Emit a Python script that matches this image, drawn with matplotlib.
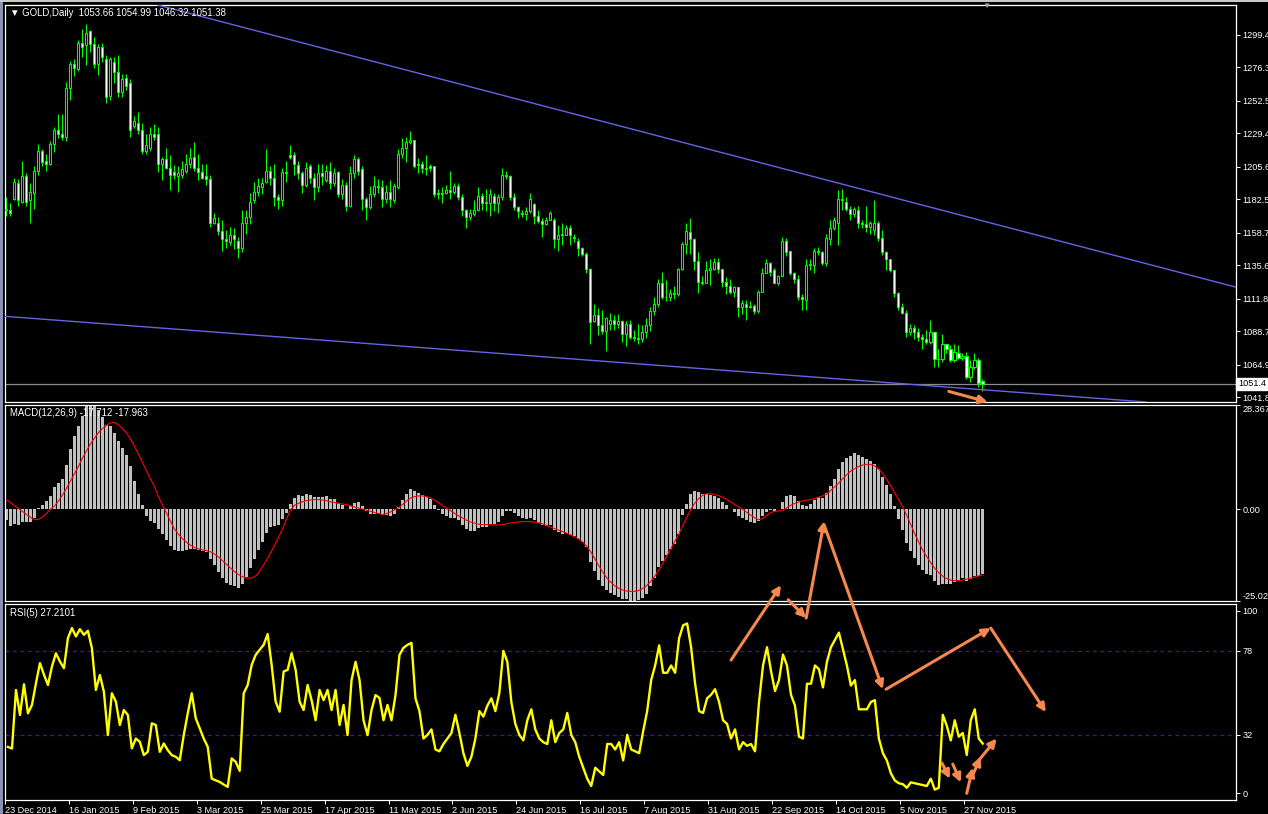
import matplotlib
matplotlib.use("Agg")
import matplotlib.pyplot as plt
from matplotlib.patches import Rectangle

plt.rcParams['font.family'] = ['Liberation Sans', 'DejaVu Sans']

# ---------------- data ----------------
date_labels = ["23 Dec 2014", "16 Jan 2015", "9 Feb 2015", "3 Mar 2015", "25 Mar 2015",
               "17 Apr 2015", "11 May 2015", "2 Jun 2015", "24 Jun 2015", "16 Jul 2015",
               "7 Aug 2015", "31 Aug 2015", "22 Sep 2015", "14 Oct 2015", "5 Nov 2015",
               "27 Nov 2015"]
label_bars = [0, 16, 32, 48, 64, 80, 96, 112, 128, 144, 160, 176, 192, 208, 224, 240]

opens = [
    1176, 1175, 1183, 1194, 1181, 1199, 1182, 1187, 1203, 1217,
    1210, 1208, 1222, 1232, 1229, 1227, 1262, 1279, 1275, 1294,
    1292, 1302, 1293, 1279, 1291, 1282, 1256, 1280, 1273, 1259,
    1269, 1265, 1235, 1237, 1232, 1217, 1219, 1229, 1229, 1208,
    1211, 1205, 1202, 1199, 1200, 1203, 1208, 1213, 1205, 1202,
    1199, 1197, 1166, 1166, 1160, 1154, 1152, 1157, 1153, 1148,
    1166, 1170, 1182, 1188, 1191, 1195, 1203, 1198, 1184, 1182,
    1202, 1214, 1214, 1207, 1201, 1193, 1206, 1198, 1191, 1201,
    1196, 1203, 1194, 1202, 1186, 1193, 1178, 1201, 1211, 1204,
    1183, 1177, 1186, 1192, 1191, 1183, 1188, 1182, 1191, 1215,
    1219, 1223, 1225, 1208, 1208, 1204, 1206, 1206, 1187, 1186,
    1187, 1189, 1188, 1192, 1184, 1175, 1170, 1172, 1175, 1185,
    1181, 1180, 1185, 1180, 1184, 1200, 1199, 1184, 1177, 1173,
    1172, 1174, 1179, 1171, 1167, 1165, 1168, 1168, 1154, 1157,
    1157, 1162, 1156, 1153, 1148, 1144, 1133, 1096, 1100, 1093,
    1089, 1094, 1097, 1094, 1096, 1087, 1094, 1085, 1084, 1083,
    1088, 1093, 1103, 1108, 1123, 1113, 1113, 1116, 1115, 1133,
    1151, 1159, 1154, 1139, 1124, 1123, 1132, 1133, 1138, 1133,
    1124, 1121, 1117, 1120, 1106, 1108, 1106, 1107, 1103, 1117,
    1130, 1137, 1132, 1123, 1128, 1153, 1146, 1130, 1126, 1113,
    1111, 1136, 1136, 1146, 1145, 1137, 1154, 1162, 1166, 1183,
    1181, 1176, 1172, 1175, 1166, 1165, 1163, 1161, 1166, 1155,
    1145, 1140, 1132, 1116, 1106, 1102, 1088, 1091, 1088, 1085,
    1083, 1081, 1088, 1069, 1069, 1080, 1076, 1068, 1073, 1070,
    1071, 1056, 1063, 1068, 1053.66]

highs = [
    1184, 1180, 1198, 1197, 1210, 1201, 1194, 1206, 1222, 1218,
    1215, 1224, 1234, 1243, 1243, 1266, 1281, 1282, 1296, 1304,
    1307, 1303, 1298, 1293, 1294, 1285, 1284, 1284, 1285, 1272,
    1272, 1268, 1242, 1245, 1237, 1229, 1234, 1236, 1234, 1213,
    1219, 1214, 1207, 1206, 1210, 1215, 1219, 1223, 1215, 1208,
    1208, 1200, 1173, 1170, 1168, 1161, 1163, 1162, 1156, 1175,
    1175, 1187, 1195, 1198, 1198, 1218, 1206, 1208, 1186, 1205,
    1210, 1221, 1216, 1210, 1203, 1209, 1208, 1201, 1208, 1208,
    1207, 1209, 1205, 1203, 1197, 1195, 1206, 1214, 1213, 1206,
    1184, 1192, 1199, 1197, 1196, 1193, 1196, 1194, 1218, 1226,
    1227, 1231, 1225, 1212, 1210, 1214, 1208, 1206, 1190, 1191,
    1193, 1203, 1194, 1194, 1186, 1176, 1176, 1182, 1191, 1187,
    1190, 1190, 1187, 1186, 1205, 1203, 1200, 1187, 1178, 1175,
    1177, 1187, 1180, 1175, 1169, 1170, 1174, 1169, 1164, 1166,
    1164, 1164, 1158, 1155, 1149, 1145, 1134, 1108, 1105, 1104,
    1099, 1102, 1100, 1101, 1097, 1096, 1097, 1090, 1094, 1093,
    1098, 1106, 1113, 1126, 1131, 1125, 1119, 1121, 1134, 1152,
    1166, 1169, 1155, 1145, 1128, 1139, 1140, 1141, 1141, 1133,
    1127, 1126, 1121, 1120, 1111, 1111, 1110, 1108, 1118, 1134,
    1140, 1138, 1134, 1129, 1156, 1155, 1146, 1131, 1129, 1115,
    1140, 1140, 1148, 1149, 1146, 1158, 1168, 1170, 1189, 1190,
    1184, 1178, 1177, 1178, 1168, 1178, 1167, 1182, 1167, 1161,
    1146, 1140, 1132, 1117, 1109, 1104, 1094, 1093, 1091, 1087,
    1090, 1097, 1089, 1076, 1087, 1080, 1079, 1080, 1079, 1073,
    1074, 1068, 1073, 1070, 1054.99]

lows = [
    1171, 1171, 1182, 1178, 1180, 1178, 1166, 1176, 1200, 1206,
    1203, 1207, 1216, 1226, 1225, 1224, 1253, 1270, 1274, 1284,
    1278, 1287, 1276, 1271, 1280, 1251, 1253, 1265, 1255, 1255,
    1260, 1227, 1233, 1229, 1215, 1215, 1217, 1225, 1202, 1196,
    1204, 1189, 1197, 1188, 1198, 1201, 1205, 1203, 1196, 1197,
    1193, 1163, 1165, 1157, 1146, 1148, 1150, 1147, 1141, 1145,
    1158, 1165, 1180, 1185, 1186, 1194, 1193, 1178, 1176, 1178,
    1195, 1211, 1200, 1197, 1187, 1191, 1194, 1182, 1188, 1193,
    1195, 1190, 1192, 1184, 1183, 1174, 1177, 1198, 1200, 1175,
    1168, 1176, 1184, 1187, 1177, 1180, 1177, 1180, 1190, 1212,
    1209, 1222, 1205, 1201, 1201, 1200, 1203, 1184, 1183, 1180,
    1186, 1183, 1186, 1182, 1171, 1162, 1168, 1171, 1174, 1175,
    1174, 1171, 1174, 1173, 1182, 1197, 1182, 1175, 1169, 1170,
    1168, 1173, 1165, 1166, 1156, 1164, 1168, 1148, 1146, 1150,
    1157, 1150, 1152, 1142, 1142, 1130, 1080, 1095, 1086, 1087,
    1075, 1090, 1090, 1091, 1081, 1078, 1083, 1082, 1080, 1081,
    1084, 1089, 1100, 1106, 1112, 1110, 1110, 1112, 1114, 1132,
    1144, 1144, 1132, 1116, 1122, 1123, 1122, 1132, 1130, 1120,
    1115, 1115, 1113, 1099, 1101, 1097, 1105, 1101, 1102, 1117,
    1130, 1128, 1123, 1122, 1128, 1142, 1129, 1123, 1111, 1104,
    1104, 1132, 1130, 1143, 1136, 1135, 1150, 1161, 1150, 1175,
    1174, 1168, 1170, 1162, 1162, 1159, 1158, 1157, 1153, 1143,
    1132, 1131, 1113, 1104, 1101, 1085, 1086, 1083, 1082, 1076,
    1080, 1080, 1063, 1063, 1067, 1073, 1067, 1067, 1069, 1068,
    1055, 1053, 1062, 1049, 1046.32]

closes = [
    1175, 1173, 1195, 1182, 1199, 1181, 1188, 1203, 1217, 1209,
    1208, 1222, 1232, 1229, 1227, 1262, 1279, 1276, 1294, 1291,
    1301, 1293, 1279, 1291, 1284, 1255, 1282, 1273, 1259, 1268,
    1263, 1232, 1238, 1232, 1217, 1221, 1229, 1227, 1208, 1211,
    1205, 1200, 1200, 1201, 1204, 1208, 1212, 1205, 1202, 1198,
    1197, 1166, 1169, 1160, 1154, 1153, 1157, 1154, 1148, 1166,
    1170, 1181, 1188, 1192, 1194, 1203, 1198, 1184, 1182, 1202,
    1201, 1213, 1208, 1201, 1193, 1205, 1198, 1191, 1201, 1199,
    1203, 1194, 1201, 1186, 1193, 1178, 1201, 1211, 1203, 1183,
    1177, 1186, 1192, 1191, 1183, 1188, 1183, 1192, 1215, 1219,
    1223, 1225, 1206, 1207, 1205, 1205, 1205, 1186, 1186, 1187,
    1189, 1188, 1192, 1184, 1175, 1170, 1173, 1175, 1185, 1180,
    1180, 1186, 1180, 1184, 1200, 1199, 1184, 1177, 1174, 1172,
    1174, 1183, 1171, 1167, 1165, 1168, 1173, 1154, 1157, 1158,
    1162, 1157, 1155, 1148, 1144, 1133, 1095, 1100, 1093, 1089,
    1098, 1097, 1094, 1096, 1087, 1094, 1085, 1084, 1083, 1088,
    1093, 1103, 1108, 1123, 1113, 1113, 1116, 1115, 1133, 1151,
    1160, 1154, 1139, 1124, 1123, 1132, 1134, 1138, 1133, 1124,
    1121, 1117, 1120, 1106, 1109, 1106, 1107, 1103, 1117, 1130,
    1137, 1131, 1123, 1128, 1153, 1145, 1130, 1126, 1113, 1112,
    1136, 1136, 1146, 1145, 1137, 1155, 1162, 1168, 1183, 1182,
    1176, 1172, 1176, 1166, 1165, 1163, 1166, 1166, 1155, 1145,
    1140, 1132, 1116, 1106, 1102, 1088, 1091, 1088, 1085, 1083,
    1081, 1088, 1069, 1069, 1080, 1076, 1068, 1074, 1070, 1071,
    1056, 1063, 1068, 1052, 1051.38]

macd_main = [
    -2.9, -4.5, -4.0, -4.2, -3.6, -3.6, -3.6, -2.4, 0.3, 1.0,
    2.1, 3.7, 6.0, 7.2, 8.1, 12.0, 16.4, 19.8, 22.6, 25.5,
    28.0, 28.367, 28.0, 27.0, 25.1, 23.0, 22.6, 20.7, 18.6, 16.6,
    14.7, 11.7, 7.8, 4.1, 1.0, -1.9, -3.1, -3.9, -5.5, -6.8,
    -8.5, -10.0, -11.0, -11.5, -11.5, -11.2, -10.8, -10.8, -11.0, -11.5,
    -11.8, -13.5, -15.2, -17.0, -18.8, -20.0, -20.6, -21.0, -21.5, -20.3,
    -18.5, -16.0, -13.5, -11.2, -9.0, -6.5, -5.0, -4.6, -4.3, -2.6,
    -1.0, 1.5, 3.0, 3.8, 3.6, 4.0, 3.8, 3.2, 3.4, 3.3,
    3.5, 2.8, 2.8, 1.6, 1.2, 0.0, 0.8, 1.8, 1.9, 0.8,
    -0.6, -1.2, -1.2, -1.1, -1.6, -1.6, -2.0, -1.4, 0.6, 2.5,
    4.2, 5.5, 4.9, 4.4, 3.8, 3.3, 2.8, 1.0, -0.3, -1.3,
    -1.8, -2.3, -2.3, -3.0, -4.2, -5.4, -5.9, -6.0, -5.2, -5.0,
    -4.8, -4.1, -4.0, -3.6, -1.8, -0.5, -0.6, -1.1, -1.8, -2.5,
    -2.8, -2.3, -3.0, -3.7, -4.4, -4.6, -4.2, -5.6, -6.3, -6.7,
    -6.6, -7.0, -7.4, -8.2, -9.0, -10.4, -14.4, -16.9, -19.2, -21.0,
    -22.0, -22.8, -23.5, -23.9, -24.5, -24.6, -25.0, -25.0, -24.8, -24.1,
    -23.0, -21.0, -18.8, -15.8, -14.0, -12.4, -10.8, -9.4, -6.8, -1.5,
    1.5, 4.0, 5.0, 4.8, 4.2, 4.0, 3.8, 3.6, 3.0, 2.0,
    1.0, 0.0, -0.8, -1.8, -2.5, -3.0, -3.4, -3.8, -3.2, -2.0,
    -0.8, -0.2, -0.5, 0.0, 2.0, 3.6, 3.9, 3.5, 2.2, 1.0,
    0.8, 1.4, 2.6, 3.2, 3.0, 4.5, 6.2, 8.1, 10.9, 12.8,
    13.8, 14.6, 15.2, 14.8, 14.3, 13.6, 13.0, 12.4, 10.9, 8.8,
    6.7, 4.2, 0.9, -2.6, -5.7, -9.1, -11.4, -13.4, -15.1, -16.6,
    -17.8, -18.0, -19.6, -20.6, -20.4, -20.3, -20.5, -19.8, -19.4, -18.8,
    -19.5, -19.1, -18.3, -18.2, -17.712]

macd_signal = [
    2.6, 1.8, 1.0, 0.2, -0.6, -1.4, -2.2, -2.9, -2.8, -2.2,
    -1.2, -0.1, 0.8, 2.2, 3.8, 5.6, 7.6, 9.6, 11.6, 13.8,
    15.8, 17.7, 19.3, 20.8, 21.9, 22.8, 23.5, 23.6, 23.0, 22.0,
    20.8, 19.2, 17.2, 15.0, 12.8, 10.5, 8.3, 6.2, 3.5, 1.2,
    -1.0, -3.2, -5.4, -6.8, -8.0, -9.0, -9.8, -10.4, -10.8, -11.1,
    -11.3, -11.6, -12.2, -13.0, -14.0, -15.0, -16.0, -17.0, -17.8, -18.4,
    -18.8, -18.8, -18.5, -17.5, -15.8, -14.0, -12.0, -10.0, -7.8, -5.5,
    -2.8, -0.3, 1.0, 1.6, 2.0, 2.3, 2.5, 2.6, 2.6, 2.5,
    2.3, 2.0, 1.8, 1.6, 1.4, 1.2, 0.9, 0.6, 0.3, 0.0,
    -0.3, -0.6, -0.9, -1.2, -1.5, -1.2, -0.8, -0.2, 0.3, 1.2,
    2.2, 3.0, 3.4, 3.6, 3.6, 3.4, 3.0, 2.5, 1.8, 1.0,
    0.3, -0.4, -1.1, -1.8, -2.4, -3.0, -3.5, -3.8, -4.1, -4.2,
    -4.2, -4.3, -4.3, -4.3, -4.2, -4.0, -3.8, -3.6, -3.5, -3.4,
    -3.4, -3.4, -3.5, -3.7, -4.0, -4.4, -4.9, -5.3, -5.7, -6.1,
    -6.5, -7.0, -7.5, -8.1, -8.9, -10.0, -11.5, -13.3, -15.2, -17.0,
    -18.6, -19.8, -20.8, -21.5, -22.0, -22.3, -22.4, -22.4, -22.2, -21.7,
    -20.9, -19.8, -18.4, -16.8, -15.0, -13.0, -11.0, -9.0, -7.0, -4.8,
    -2.5, -0.3, 1.5, 2.8, 3.7, 4.2, 4.2, 4.0, 3.7, 3.3,
    2.7, 2.0, 1.3, 0.6, 0.0, -0.8, -1.6, -2.3, -2.9, -2.6,
    -1.8, -1.0, -0.6, -0.5, -0.4, 0.3, 1.0, 1.5, 1.9, 2.2,
    2.4, 2.6, 2.9, 3.2, 3.6, 4.0, 5.0, 6.0, 7.0, 8.2,
    9.3, 10.3, 11.0, 11.6, 12.0, 12.2, 12.2, 11.8, 11.0, 9.8,
    8.2, 6.5, 4.6, 2.7, 0.8, -1.5, -4.0, -6.5, -8.8, -11.0,
    -12.8, -14.5, -16.0, -17.2, -18.2, -18.9, -19.3, -19.5, -19.5, -19.3,
    -19.1, -18.8, -18.5, -18.2, -17.963]

rsi_vals = [
    25.4, 24.5, 56.6, 42.9, 59.7, 43.8, 48.4, 60.3, 71.3, 65.0,
    59.3, 69.4, 76.7, 72.2, 68.5, 85.0, 90.5, 85.9, 89.9, 86.8,
    89.0, 79.5, 56.6, 64.8, 55.7, 31.9, 54.8, 50.2, 37.4, 45.6,
    42.9, 24.6, 30.0, 28.2, 20.9, 22.7, 38.3, 37.4, 22.7, 27.3,
    23.6, 20.9, 20.0, 18.1, 31.9, 43.8, 54.8, 41.1, 35.5, 30.0,
    25.4, 8.0, 7.1, 6.2, 4.8, 3.5, 19.1, 17.2, 12.3, 54.8,
    59.3, 70.3, 75.8, 78.6, 81.3, 87.2, 70.3, 50.2, 44.7, 66.7,
    67.6, 76.7, 67.6, 50.2, 45.6, 59.3, 51.0, 40.0, 56.6, 51.0,
    56.6, 45.6, 56.6, 37.4, 48.4, 31.9, 62.0, 72.0, 62.0, 40.0,
    31.9, 45.6, 53.8, 52.2, 40.0, 48.4, 40.0, 53.8, 75.8, 79.7,
    81.3, 82.4, 52.0, 45.0, 30.0, 32.0, 35.0, 24.0, 23.0, 27.0,
    30.0, 33.0, 43.0, 33.0, 22.0, 15.0, 20.0, 30.0, 45.0, 42.0,
    48.0, 52.0, 45.0, 55.0, 78.0, 72.0, 50.0, 38.0, 32.0, 29.0,
    40.0, 46.0, 35.0, 30.0, 28.0, 27.0, 40.0, 28.0, 33.0, 35.0,
    44.0, 32.0, 28.0, 20.0, 14.0, 8.0, 4.0, 14.0, 12.0, 10.0,
    27.0, 27.0, 24.0, 28.0, 18.0, 32.0, 24.0, 23.0, 22.0, 34.0,
    45.0, 62.0, 70.0, 81.0, 66.0, 66.0, 70.0, 66.0, 85.0, 92.0,
    93.0, 80.0, 60.0, 45.0, 44.0, 52.0, 54.0, 57.0, 50.0, 40.0,
    38.0, 30.0, 35.0, 24.0, 28.0, 26.0, 27.0, 23.0, 50.0, 70.0,
    80.0, 67.0, 56.0, 62.0, 76.0, 70.0, 54.0, 48.0, 31.0, 30.0,
    60.0, 60.0, 70.0, 68.0, 58.0, 72.0, 80.0, 84.0, 88.0, 79.0,
    70.0, 59.0, 62.0, 46.0, 46.0, 46.0, 50.0, 51.0, 30.0, 22.0,
    18.0, 11.0, 7.0, 5.5, 5.0, 3.0, 6.0, 5.5, 5.0, 4.5,
    4.0, 8.0, 2.0, 3.0, 43.0, 37.0, 29.0, 40.0, 31.0, 33.0,
    21.0, 40.0, 46.0, 30.0, 27.2101]

# trend lines: (bar index, price) anchor pairs
upper_trend = [(0, 1348.9), (244, 1167.3)]
lower_trend = [(0, 1099.3), (244, 1047.2)]

price_ticks = [1299.4, 1276.3, 1252.5, 1229.4, 1205.6, 1182.5, 1158.7, 1135.6,
               1111.8, 1088.7, 1064.9, 1041.8]
macd_ticks = [28.367, 0.0, -25.025]
macd_tick_labels = ["28.367", "0.00", "-25.025"]
rsi_levels = [78, 32]
rsi_ticks = [100, 78, 32, 0]

# annotation arrows in RSI-panel units: (bar_from, val_from, bar_to, val_to)
rsi_arrows = [
    (181.0, 73.0, 193.5, 114.0),
    (195.3, 106.0, 199.8, 96.0),
    (199.8, 96.0, 204.3, 149.0),
    (204.3, 147.0, 219.0, 57.0),
    (219.8, 57.0, 246.0, 90.5),
    (246.0, 90.5, 259.8, 44.5),
    (233.8, 16.5, 235.8, 8.0),
    (236.5, 16.0, 238.5, 6.0),
    (240.0, 0.0, 241.5, 14.0),
    (241.5, 10.0, 243.5, 20.0),
    (243.0, 18.0, 247.5, 30.0),
]
price_arrows = [(235.6, 1046.0, 245.3, 1038.5)]

# ---------------- figure ----------------
W, H = 1268, 814
BG = "black"
CANDLE = "#00ff00"
TREND = "#6464e6"
ARROW = "#f5884f"
FS = 6.6

fig = plt.figure(figsize=(W / 100, H / 100), dpi=100, facecolor=BG)


def rect(l, t, r, b):
    return [l / W, 1 - b / H, (r - l) / W, (b - t) / H]


ax_p = fig.add_axes(rect(5, 5, 1236, 402))
ax_m = fig.add_axes(rect(5, 405, 1236, 601))
ax_r = fig.add_axes(rect(5, 604, 1236, 800))

n = len(closes)
idx = list(range(n))
xlim = (-0.33, 307.4)

for ax in (ax_p, ax_m, ax_r):
    ax.set_facecolor(BG)
    ax.set_xlim(*xlim)
    for s in ax.spines.values():
        s.set_color("white")
        s.set_linewidth(0.9)
    ax.yaxis.tick_right()
    ax.tick_params(axis="y", colors="white", length=3, width=0.7, pad=1.5,
                   labelsize=FS, direction="out")
    ax.tick_params(axis="x", bottom=False, labelbottom=False)

# --- price panel ---
ax_p.set_ylim(1038.46, 1320.73)
ax_p.vlines(idx, lows, highs, color=CANDLE, linewidth=0.8, zorder=2)
for i in idx:
    o, c = opens[i], closes[i]
    bot = min(o, c)
    h = max(abs(c - o), 0.35)
    face = "black" if c >= o else "white"
    ax_p.add_patch(Rectangle((i - 0.28, bot), 0.56, h, facecolor=face,
                             edgecolor=CANDLE, linewidth=0.75, zorder=3))

for (x0, y0), (x1, y1) in (upper_trend, lower_trend):
    ax_p.axline((x0, y0), (x1, y1), color=TREND, linewidth=1.0, zorder=4)

ax_p.axhline(closes[-1], color="#8c8c8c", linewidth=0.9, zorder=1)
ax_p.set_yticks(price_ticks)
ax_p.set_yticklabels([f"{v:.1f}" for v in price_ticks])
ax_p.text(1.0015, closes[-1], f"{closes[-1]:.1f}", transform=ax_p.get_yaxis_transform(),
          color="black", fontsize=FS, va="center", ha="left",
          bbox=dict(boxstyle="square,pad=0.15", facecolor="white", edgecolor="white"),
          clip_on=False)
for (x0, y0, x1, y1) in price_arrows:
    ax_p.annotate("", xy=(x1, y1), xytext=(x0, y0), annotation_clip=False,
                  arrowprops=dict(arrowstyle="-|>", color=ARROW, lw=2.2,
                                  mutation_scale=12, shrinkA=0, shrinkB=0), zorder=6)

# --- MACD panel ---
ax_m.set_ylim(-25.025, 28.367)
ax_m.bar(idx, macd_main, width=0.72, color="#c0c0c0", linewidth=0, zorder=2)
ax_m.plot(idx, macd_signal, color="#ff0000", linewidth=0.8, zorder=3)
ax_m.set_yticks(macd_ticks)
ax_m.set_yticklabels(macd_tick_labels)
labs = ax_m.get_yticklabels()
labs[0].set_va("top")
labs[2].set_va("bottom")

# --- RSI panel ---
ax_r.set_ylim(-3.67, 103.67)
for lv in rsi_levels:
    ax_r.axhline(lv, color="#4b1496", linewidth=0.9, linestyle=(0, (3, 3)), zorder=1)
ax_r.plot(idx, rsi_vals, color="#ffff00", linewidth=1.7, zorder=3)
ax_r.set_yticks(rsi_ticks)
ax_r.set_yticklabels([str(v) for v in rsi_ticks])

ax_r.tick_params(axis="x", bottom=True, labelbottom=True, colors="white", length=3,
                 width=0.7, pad=1, labelsize=FS, direction="out")
ax_r.set_xticks([b - 0.75 for b in label_bars])
ax_r.set_xticklabels(date_labels)
for lbl in ax_r.get_xticklabels():
    lbl.set_ha("left")

for (x0, y0, x1, y1) in rsi_arrows:
    ax_r.annotate("", xy=(x1, y1), xytext=(x0, y0), annotation_clip=False,
                  arrowprops=dict(arrowstyle="-|>", color=ARROW, lw=2.2,
                                  mutation_scale=12, shrinkA=0, shrinkB=0), zorder=6)

# --- headers ---
fig.text(10 / W, 1 - 13 / H,
         f"\u25bc GOLD,Daily  {opens[-1]:.2f} {highs[-1]:.2f} {lows[-1]:.2f} {closes[-1]:.2f}",
         color="white", fontsize=FS + 0.3, va="center", ha="left")
fig.text(10 / W, 1 - 413 / H,
         f"MACD(12,26,9) {macd_main[-1]:.3f} {macd_signal[-1]:.3f}",
         color="white", fontsize=FS + 0.3, va="center", ha="left")
fig.text(10 / W, 1 - 613 / H, f"RSI(5) {rsi_vals[-1]:.4f}",
         color="white", fontsize=FS + 0.3, va="center", ha="left")

# window frame details
fig.add_artist(Rectangle((0, 0), 3 / W, 1, transform=fig.transFigure,
                         facecolor="#8a93ad", edgecolor="none"))
fig.add_artist(Rectangle((0, 1 - 2 / H), 1, 2 / H, transform=fig.transFigure,
                         facecolor="#c8c8c8", edgecolor="none"))
fig.text(986 / W, 1 - 6 / H, "\u25bc", color="#9aa4b4", fontsize=6,
         ha="center", va="center")

fig.savefig("out.png", dpi=100, facecolor=BG)
